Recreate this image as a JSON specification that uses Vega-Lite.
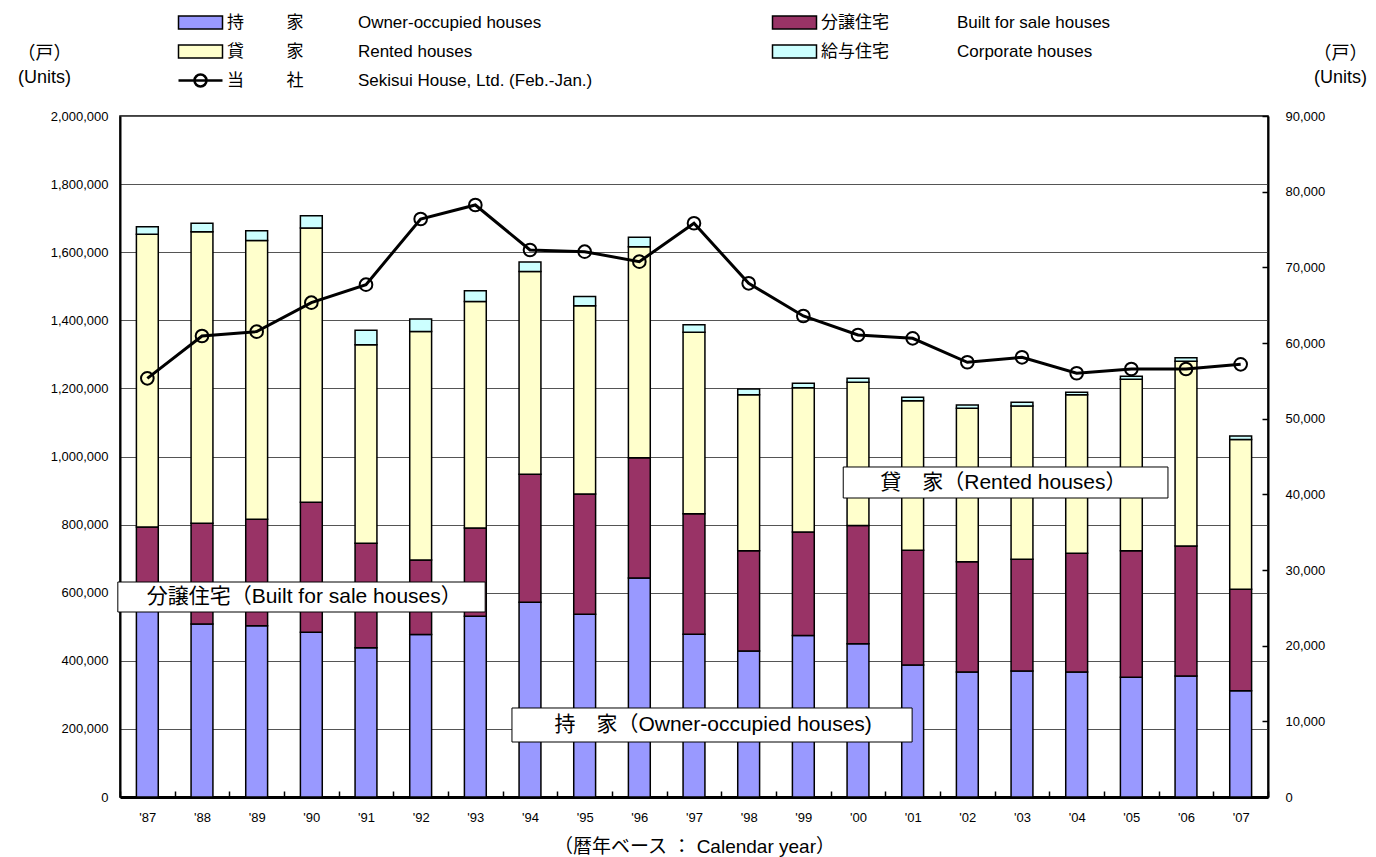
{
  "$schema": "https://vega.github.io/schema/vega-lite/v6.json",
  "width": 1148,
  "height": 681,
  "autosize": {"type": "none"},
  "padding": {"left": 120, "top": 116, "right": 108, "bottom": 60},
  "background": "white",
  "config": {
    "view": {"stroke": "black", "strokeWidth": 1.5},
    "axis": {"labelFont": "Liberation Sans", "labelColor": "black", "titleColor": "black", "titleFont": "Liberation Sans, Noto Sans CJK JP", "titleFontWeight": "normal"},
    "legend": {"labelFont": "Liberation Sans, Noto Sans CJK JP", "labelFontSize": 17, "labelColor": "black", "labelLimit": 2000, "padding": 0, "offset": 0, "symbolStrokeColor": "black", "symbolStrokeWidth": 1.5, "labelOffset": 18, "symbolOffset": 0}
  },
  "datasets": {
    "starts": [
      {"year": "'87", "type": "owner", "k": 1, "v": 557000}, {"year": "'87", "type": "bfs", "k": 2, "v": 236000}, {"year": "'87", "type": "rented", "k": 3, "v": 860000}, {"year": "'87", "type": "corp", "k": 4, "v": 22000},
      {"year": "'88", "type": "owner", "k": 1, "v": 508000}, {"year": "'88", "type": "bfs", "k": 2, "v": 296000}, {"year": "'88", "type": "rented", "k": 3, "v": 856000}, {"year": "'88", "type": "corp", "k": 4, "v": 25000},
      {"year": "'89", "type": "owner", "k": 1, "v": 503000}, {"year": "'89", "type": "bfs", "k": 2, "v": 313000}, {"year": "'89", "type": "rented", "k": 3, "v": 818000}, {"year": "'89", "type": "corp", "k": 4, "v": 29000},
      {"year": "'90", "type": "owner", "k": 1, "v": 484000}, {"year": "'90", "type": "bfs", "k": 2, "v": 382000}, {"year": "'90", "type": "rented", "k": 3, "v": 805000}, {"year": "'90", "type": "corp", "k": 4, "v": 36000},
      {"year": "'91", "type": "owner", "k": 1, "v": 438000}, {"year": "'91", "type": "bfs", "k": 2, "v": 307000}, {"year": "'91", "type": "rented", "k": 3, "v": 583000}, {"year": "'91", "type": "corp", "k": 4, "v": 43000},
      {"year": "'92", "type": "owner", "k": 1, "v": 477000}, {"year": "'92", "type": "bfs", "k": 2, "v": 219000}, {"year": "'92", "type": "rented", "k": 3, "v": 671000}, {"year": "'92", "type": "corp", "k": 4, "v": 37000},
      {"year": "'93", "type": "owner", "k": 1, "v": 531000}, {"year": "'93", "type": "bfs", "k": 2, "v": 259000}, {"year": "'93", "type": "rented", "k": 3, "v": 665000}, {"year": "'93", "type": "corp", "k": 4, "v": 32000},
      {"year": "'94", "type": "owner", "k": 1, "v": 572000}, {"year": "'94", "type": "bfs", "k": 2, "v": 376000}, {"year": "'94", "type": "rented", "k": 3, "v": 595000}, {"year": "'94", "type": "corp", "k": 4, "v": 28000},
      {"year": "'95", "type": "owner", "k": 1, "v": 537000}, {"year": "'95", "type": "bfs", "k": 2, "v": 353000}, {"year": "'95", "type": "rented", "k": 3, "v": 553000}, {"year": "'95", "type": "corp", "k": 4, "v": 27000},
      {"year": "'96", "type": "owner", "k": 1, "v": 643000}, {"year": "'96", "type": "bfs", "k": 2, "v": 353000}, {"year": "'96", "type": "rented", "k": 3, "v": 620000}, {"year": "'96", "type": "corp", "k": 4, "v": 28000},
      {"year": "'97", "type": "owner", "k": 1, "v": 478000}, {"year": "'97", "type": "bfs", "k": 2, "v": 354000}, {"year": "'97", "type": "rented", "k": 3, "v": 533000}, {"year": "'97", "type": "corp", "k": 4, "v": 22000},
      {"year": "'98", "type": "owner", "k": 1, "v": 429000}, {"year": "'98", "type": "bfs", "k": 2, "v": 294000}, {"year": "'98", "type": "rented", "k": 3, "v": 458000}, {"year": "'98", "type": "corp", "k": 4, "v": 17000},
      {"year": "'99", "type": "owner", "k": 1, "v": 474000}, {"year": "'99", "type": "bfs", "k": 2, "v": 304000}, {"year": "'99", "type": "rented", "k": 3, "v": 424000}, {"year": "'99", "type": "corp", "k": 4, "v": 13000},
      {"year": "'00", "type": "owner", "k": 1, "v": 450000}, {"year": "'00", "type": "bfs", "k": 2, "v": 347000}, {"year": "'00", "type": "rented", "k": 3, "v": 421000}, {"year": "'00", "type": "corp", "k": 4, "v": 12000},
      {"year": "'01", "type": "owner", "k": 1, "v": 388000}, {"year": "'01", "type": "bfs", "k": 2, "v": 337000}, {"year": "'01", "type": "rented", "k": 3, "v": 439000}, {"year": "'01", "type": "corp", "k": 4, "v": 10000},
      {"year": "'02", "type": "owner", "k": 1, "v": 367000}, {"year": "'02", "type": "bfs", "k": 2, "v": 324000}, {"year": "'02", "type": "rented", "k": 3, "v": 451000}, {"year": "'02", "type": "corp", "k": 4, "v": 9000},
      {"year": "'03", "type": "owner", "k": 1, "v": 370000}, {"year": "'03", "type": "bfs", "k": 2, "v": 328000}, {"year": "'03", "type": "rented", "k": 3, "v": 450000}, {"year": "'03", "type": "corp", "k": 4, "v": 11000},
      {"year": "'04", "type": "owner", "k": 1, "v": 367000}, {"year": "'04", "type": "bfs", "k": 2, "v": 349000}, {"year": "'04", "type": "rented", "k": 3, "v": 465000}, {"year": "'04", "type": "corp", "k": 4, "v": 8000},
      {"year": "'05", "type": "owner", "k": 1, "v": 352000}, {"year": "'05", "type": "bfs", "k": 2, "v": 371000}, {"year": "'05", "type": "rented", "k": 3, "v": 504000}, {"year": "'05", "type": "corp", "k": 4, "v": 9000},
      {"year": "'06", "type": "owner", "k": 1, "v": 355000}, {"year": "'06", "type": "bfs", "k": 2, "v": 382000}, {"year": "'06", "type": "rented", "k": 3, "v": 543000}, {"year": "'06", "type": "corp", "k": 4, "v": 10000},
      {"year": "'07", "type": "owner", "k": 1, "v": 312000}, {"year": "'07", "type": "bfs", "k": 2, "v": 298000}, {"year": "'07", "type": "rented", "k": 3, "v": 440000}, {"year": "'07", "type": "corp", "k": 4, "v": 10000}
    ],
    "sekisui": [
      {"year": "'87", "units": 55330}, {"year": "'88", "units": 60930}, {"year": "'89", "units": 61500}, {"year": "'90", "units": 65330},
      {"year": "'91", "units": 67710}, {"year": "'92", "units": 76390}, {"year": "'93", "units": 78240}, {"year": "'94", "units": 72290},
      {"year": "'95", "units": 72070}, {"year": "'96", "units": 70750}, {"year": "'97", "units": 75820}, {"year": "'98", "units": 67890},
      {"year": "'99", "units": 63570}, {"year": "'00", "units": 61060}, {"year": "'01", "units": 60620}, {"year": "'02", "units": 57450},
      {"year": "'03", "units": 58110}, {"year": "'04", "units": 56000}, {"year": "'05", "units": 56560}, {"year": "'06", "units": 56560},
      {"year": "'07", "units": 57180}
    ],
    "notes": [
      {"x1": -0.04, "x2": 6.68, "y1": 543300, "y2": 631400, "cx": 3.37, "cy": 587400, "label": "分譲住宅（Built for sale houses）"},
      {"x1": 7.17, "x2": 14.49, "y1": 161500, "y2": 261400, "cx": 10.85, "cy": 211500, "label": "持　家（Owner-occupied houses)"},
      {"x1": 13.23, "x2": 19.17, "y1": 878100, "y2": 969200, "cx": 16.16, "cy": 922200, "label": "貸　家（Rented houses）"}
    ]
  },
  "layer": [
    {
      "data": {"name": "starts"},
      "mark": {"type": "bar", "width": {"band": 0.4}, "stroke": "black", "strokeWidth": 1.5},
      "encoding": {
        "x": {
          "field": "year", "type": "nominal", "sort": null,
          "scale": {"paddingInner": 0, "paddingOuter": 0},
          "axis": {"orient": "bottom", "labelAngle": 0, "labelFontSize": 13, "domainColor": "black", "domainWidth": 3, "tickBand": "extent", "tickColor": "black", "tickSize": -6, "tickWidth": 1.5, "labelPadding": 20, "title": "（暦年ベース ： Calendar year）", "titleFontSize": 19, "titleY": 40, "titleBaseline": "top"}
        },
        "y": {
          "field": "v", "type": "quantitative", "stack": "zero",
          "scale": {"domain": [0, 2000000], "nice": false},
          "axis": {"orient": "left", "tickCount": 10, "format": ",d", "labelFontSize": 13, "ticks": false, "labelPadding": 12, "domainColor": "black", "domainWidth": 2, "grid": true, "gridColor": "#555555", "gridWidth": 1, "title": ["（戸）", "(Units)"], "titleAngle": 0, "titleAlign": "center", "titleBaseline": "top", "titleX": -76, "titleY": -72, "titleFontSize": 18, "titleLineHeight": 24}
        },
        "fill": {
          "field": "type", "type": "nominal",
          "scale": {"domain": ["owner", "rented", "bfs", "corp"], "range": ["#9999FF", "#FFFFCC", "#993366", "#CCFFFF"]},
          "legend": {
            "title": null, "orient": "none", "legendX": 72, "legendY": -102, "columns": 2, "columnPadding": 227, "rowPadding": 10,
            "symbolType": "M-4.4,-1.3H4.4V1.3H-4.4Z", "symbolSize": 100,
            "labelExpr": "{'owner': '持\u3000\u3000\u2002家\u3000\u3000\u3000\u2009Owner-occupied houses', 'bfs': '分譲住宅\u3000\u3000\u3000\u3000Built for sale houses', 'rented': '貸\u3000\u3000\u2002家\u3000\u3000\u3000\u2009Rented houses', 'corp': '給与住宅\u3000\u3000\u3000\u3000Corporate houses'}[datum.value]"
          }
        },
        "order": {"field": "k", "type": "quantitative"}
      }
    },
    {
      "data": {"name": "sekisui"},
      "mark": {"type": "line", "strokeWidth": 3, "point": {"filled": false, "size": 160, "strokeWidth": 2}},
      "encoding": {
        "x": {"field": "year", "type": "nominal", "sort": null, "bandPosition": 0.5, "scale": {"type": "band", "paddingInner": 0, "paddingOuter": 0}, "axis": null},
        "y": {
          "field": "units", "type": "quantitative",
          "scale": {"domain": [0, 90000], "nice": false},
          "axis": {"orient": "right", "tickCount": 9, "format": ",d", "labelFontSize": 13, "tickSize": -6, "tickColor": "black", "tickWidth": 1.5, "labelPadding": 23, "domainColor": "black", "domainWidth": 2, "grid": false, "title": ["（戸）", "(Units)"], "titleAngle": 0, "titleAlign": "center", "titleBaseline": "top", "titleX": 72, "titleY": -72, "titleFontSize": 18, "titleLineHeight": 24}
        },
        "stroke": {
          "datum": "sekisui",
          "scale": {"domain": ["sekisui"], "range": ["black"]},
          "legend": {
            "title": null, "orient": "none", "legendX": 72, "legendY": -44,
            "symbolType": "M-4.4,0H4.4M-1.2,0A1.2,1.2,0,1,0,1.2,0A1.2,1.2,0,1,0,-1.2,0", "symbolSize": 100, "symbolStrokeWidth": 2.5, "symbolFillColor": "transparent",
            "labelExpr": "'当\u3000\u3000\u2002社\u3000\u3000\u3000\u2009Sekisui House, Ltd. (Feb.-Jan.)'"
          }
        }
      }
    },
    {
      "data": {"name": "notes"},
      "layer": [
        {
          "mark": {"type": "rect", "fill": "white", "stroke": "black", "strokeWidth": 1},
          "encoding": {
            "x": {"field": "x1", "type": "quantitative", "scale": {"domain": [0, 21], "nice": false, "zero": false}, "axis": null},
            "x2": {"field": "x2"},
            "y": {"field": "y1", "type": "quantitative", "scale": {"domain": [0, 2000000], "nice": false}, "axis": null},
            "y2": {"field": "y2"}
          }
        },
        {
          "mark": {"type": "text", "font": "Liberation Sans, Noto Sans CJK JP", "fontSize": 21, "color": "black", "align": "center", "baseline": "middle"},
          "encoding": {
            "x": {"field": "cx", "type": "quantitative"},
            "y": {"field": "cy", "type": "quantitative"},
            "text": {"field": "label"}
          }
        }
      ]
    }
  ],
  "resolve": {"scale": {"x": "independent", "y": "independent"}}
}
